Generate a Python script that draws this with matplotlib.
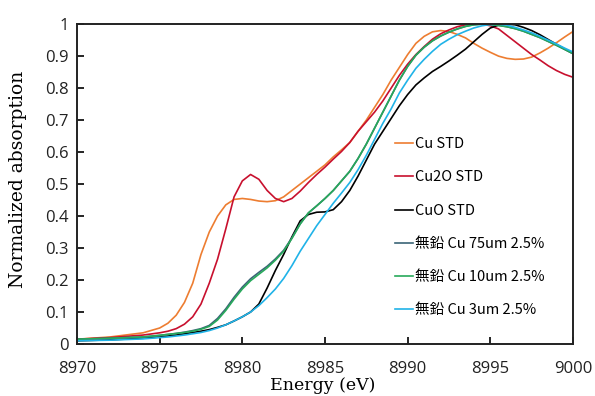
import matplotlib
matplotlib.use("Agg")
import matplotlib.pyplot as plt

plt.rcParams["font.family"] = ["Open Sans", "DejaVu Sans"]

# energy grid (eV)
energy = [8970, 8972, 8974, 8975, 8975.5, 8976, 8976.5, 8977, 8977.5, 8978, 8978.5,
          8979, 8979.5, 8980, 8980.5, 8981, 8981.5, 8982, 8982.5, 8983, 8983.5,
          8984, 8984.5, 8985, 8985.5, 8986, 8986.5, 8987, 8987.5, 8988, 8988.5,
          8989, 8989.5, 8990, 8990.5, 8991, 8991.5, 8992, 8992.5, 8993, 8993.5,
          8994, 8994.5, 8995, 8995.5, 8996, 8996.5, 8997, 8997.5, 8998, 8998.5,
          8999, 8999.5, 9000]

cu_std = [.015, .022, .035, .05, .065, .09, .13, .19, .28, .35, .40,
          .435, .452, .455, .452, .447, .445, .448, .46, .48, .50,
          .52, .54, .56, .585, .607, .63, .665, .70, .74, .78,
          .825, .865, .905, .94, .962, .976, .98, .977, .968, .957,
          .94, .925, .912, .90, .893, .89, .891, .897, .91, .925,
          .942, .96, .977]

cu2o_std = [.015, .02, .028, .035, .04, .048, .062, .085, .125, .19, .265,
            .36, .46, .51, .53, .515, .48, .455, .445, .455, .478,
            .505, .53, .553, .578, .602, .63, .665, .695, .725, .76,
            .80, .84, .875, .905, .93, .953, .97, .982, .992, .998,
            1.0, 1.0, .995, .985, .965, .945, .925, .905, .888, .87,
            .855, .843, .834]

cuo_std = [.01, .013, .018, .022, .025, .028, .032, .036, .04, .045, .052,
           .06, .072, .085, .10, .125, .175, .23, .28, .335, .385,
           .405, .412, .413, .42, .445, .48, .525, .575, .625, .665,
           .705, .745, .78, .81, .832, .852, .868, .885, .903, .922,
           .945, .968, .988, .997, 1.0, .998, .99, .98, .967, .952,
           .937, .922, .908]

pb_free_75um = [.015, .018, .022, .027, .03, .033, .037, .042, .048, .058, .08,
                .11, .146, .178, .204, .224, .243, .266, .293, .332, .376,
                .41, .432, .455, .48, .51, .54, .58, .625, .675, .725,
                .775, .825, .868, .903, .928, .948, .963, .975, .985, .993,
                .998, 1.0, .999, .996, .992, .986, .978, .968, .958, .946,
                .934, .921, .908]

pb_free_10um = [.015, .018, .022, .027, .03, .033, .036, .04, .046, .055, .075,
                .105, .14, .172, .198, .218, .238, .262, .29, .33, .375,
                .41, .432, .455, .48, .51, .54, .58, .625, .675, .725,
                .775, .825, .868, .903, .928, .948, .963, .975, .985, .993,
                .998, 1.0, .999, .996, .992, .986, .978, .968, .958, .946,
                .934, .921, .908]

pb_free_3um = [.01, .012, .016, .02, .022, .025, .028, .032, .036, .042, .05,
               .06, .072, .085, .10, .12, .145, .172, .205, .245, .29,
               .33, .37, .405, .44, .472, .505, .545, .59, .64, .69,
               .735, .785, .825, .862, .89, .915, .937, .953, .967, .978,
               .988, .995, .999, 1.0, .997, .99, .982, .973, .962, .95,
               .938, .925, .913]

labels = ["Cu STD", "Cu2O STD", "CuO STD",
          "無鉛 Cu 75um 2.5%", "無鉛 Cu 10um 2.5%", "無鉛 Cu 3um 2.5%"]
colors = ["#ED7D31", "#C8102E", "#000000", "#3B6577", "#27A95A", "#20B3E8"]
series = [cu_std, cu2o_std, cuo_std, pb_free_75um, pb_free_10um, pb_free_3um]

fig = plt.figure(figsize=(5.95, 3.96), dpi=100)
ax = fig.add_axes([0.1294, 0.1313, 0.8336, 0.8077])

for y, lab, c in zip(series, labels, colors):
    ax.plot(energy, y, color=c, lw=1.2, label=lab)

ax.set_xlim(8970, 9000)
ax.set_ylim(0, 1)
ax.set_xticks(range(8970, 9001, 5))
yt = [i / 10 for i in range(11)]
ax.set_yticks(yt)
ax.set_yticklabels(["0"] + [f"{v:.1f}" for v in yt[1:-1]] + ["1"])
ax.tick_params(direction="in", length=5, width=1.2, labelsize=12, pad=6,
               labelcolor="#222222")
ax.tick_params(axis="x", pad=12)
for s in ax.spines.values():
    s.set_linewidth(1.4)
    s.set_color("#222222")

# x label sits at the very bottom edge, as in the original
fig.text(0.5415, 0.004, "Energy (eV)", family="DejaVu Serif", fontsize=12.5,
         ha="center", va="bottom")
ax.set_ylabel("Normalized absorption", family="DejaVu Serif", fontsize=13.5)
ax.yaxis.set_label_coords(-0.101, 0.516)

leg = ax.legend(loc="upper left", bbox_to_anchor=(0.615, 0.6875), frameon=False,
                handlelength=1.2, handletextpad=0.15, labelspacing=1.32,
                prop={"family": ["Noto Sans CJK JP", "DejaVu Sans"], "size": 10.5})

fig.savefig("out.png", dpi=100)
